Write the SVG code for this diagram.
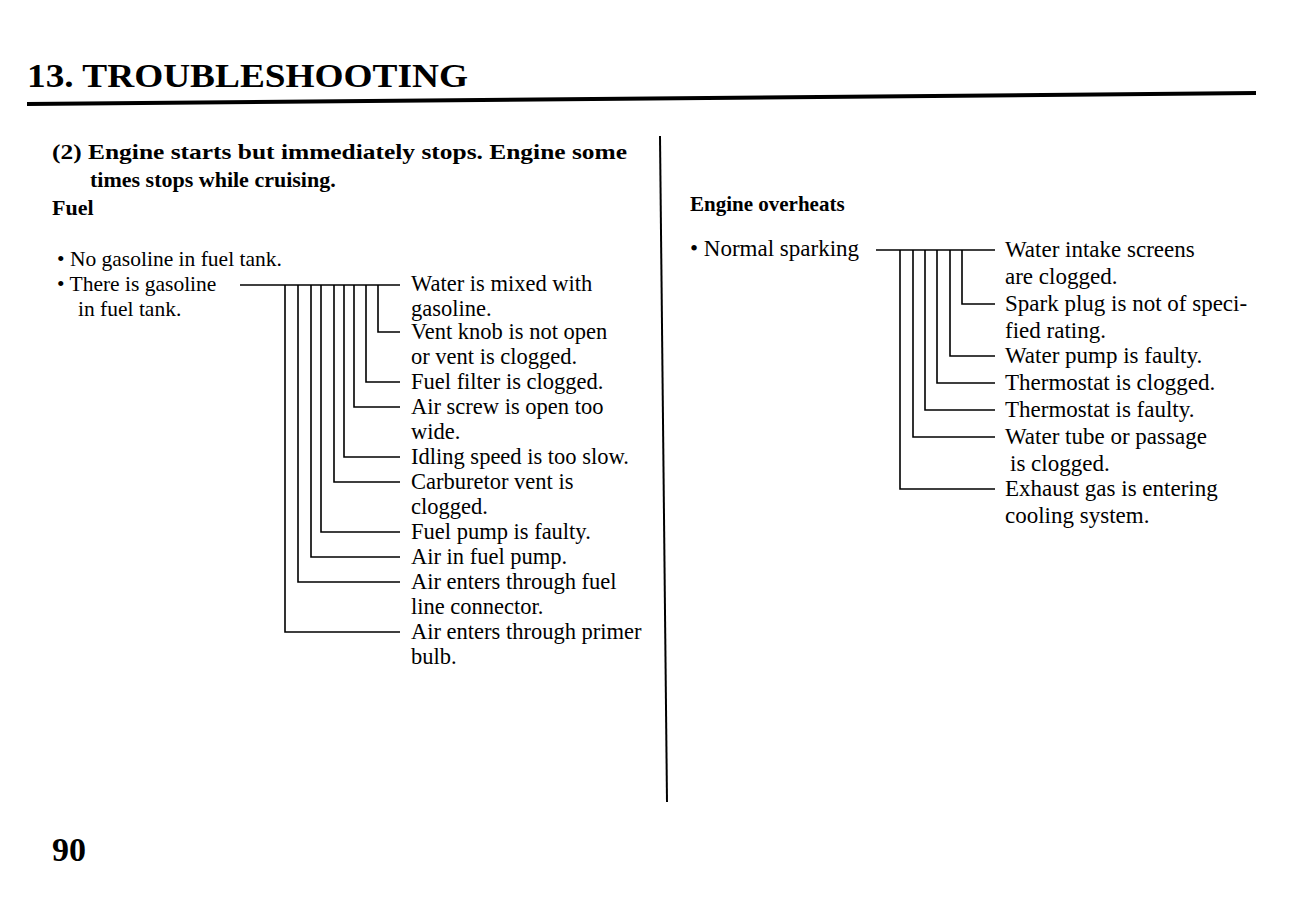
<svg xmlns="http://www.w3.org/2000/svg" width="1297" height="919" viewBox="0 0 1297 919">
<style>
  .t { font-family: "Liberation Serif", "Times New Roman", serif; fill: #000; }
  .b { font-weight: bold; }
  .l { font-size: 22.5px; }
  .s { font-size: 21.5px; }
  .r { font-size: 23px; }
  .c { fill: none; stroke: #000; stroke-width: 1.6; }
</style>
<rect width="1297" height="919" fill="#fff"/>
<g id="title">
  <text class="t b" x="27" y="87" font-size="33" textLength="441" lengthAdjust="spacingAndGlyphs">13. TROUBLESHOOTING</text>
  <line x1="27" y1="104" x2="1256" y2="93" stroke="#000" stroke-width="4"/>
</g>
<line id="divider" x1="660" y1="136" x2="667" y2="802" stroke="#000" stroke-width="2"/>
<g id="heading-left">
  <text class="t b" x="52" y="159" font-size="22" textLength="575" lengthAdjust="spacingAndGlyphs">(2) Engine starts but immediately stops.  Engine some</text>
  <text class="t b" x="90" y="187" font-size="22">times stops while cruising.</text>
  <text class="t b" x="52" y="215" font-size="22">Fuel</text>
</g>
<g id="no-gasoline"><text class="t s" x="57" y="266">• No gasoline in fuel tank.</text></g>
<g id="gasoline">
  <text class="t s" x="57" y="291">• There is gasoline</text>
  <text class="t s" x="78" y="316">in fuel tank.</text>
</g>
<g id="connectors-left">
  <polyline class="c" points="240,285 400,285"/>
  <polyline class="c" points="378,285 378,332 400,332"/>
  <polyline class="c" points="366,285 366,382 400,382"/>
  <polyline class="c" points="354,285 354,407 400,407"/>
  <polyline class="c" points="344,285 344,457 400,457"/>
  <polyline class="c" points="334,285 334,482 400,482"/>
  <polyline class="c" points="321,285 321,532 400,532"/>
  <polyline class="c" points="311,285 311,557 400,557"/>
  <polyline class="c" points="298,285 298,582 400,582"/>
  <polyline class="c" points="285,285 285,632 400,632"/>
</g>
<g id="c1"><text class="t l" x="411" y="291">Water is mixed with</text><text class="t l" x="411" y="316">gasoline.</text></g>
<g id="c2"><text class="t l" x="411" y="339">Vent knob is not open</text><text class="t l" x="411" y="364">or vent is clogged.</text></g>
<g id="c3"><text class="t l" x="411" y="389">Fuel filter is clogged.</text></g>
<g id="c4"><text class="t l" x="411" y="414">Air screw is open too</text><text class="t l" x="411" y="439">wide.</text></g>
<g id="c5"><text class="t l" x="411" y="464">Idling speed is too slow.</text></g>
<g id="c6"><text class="t l" x="411" y="489">Carburetor vent is</text><text class="t l" x="411" y="514">clogged.</text></g>
<g id="c7"><text class="t l" x="411" y="539">Fuel pump is faulty.</text></g>
<g id="c8"><text class="t l" x="411" y="564">Air in fuel pump.</text></g>
<g id="c9"><text class="t l" x="411" y="589">Air enters through fuel</text><text class="t l" x="411" y="614">line connector.</text></g>
<g id="c10"><text class="t l" x="411" y="639">Air enters through primer</text><text class="t l" x="411" y="664">bulb.</text></g>
<g id="heading-right"><text class="t b" x="690" y="211" font-size="21">Engine overheats</text></g>
<g id="normal-sparking"><text class="t r" x="690" y="256">• Normal sparking</text></g>
<g id="connectors-right">
  <polyline class="c" points="876,250 995,250"/>
  <polyline class="c" points="962,250 962,304 995,304"/>
  <polyline class="c" points="950,250 950,356 995,356"/>
  <polyline class="c" points="937,250 937,383 995,383"/>
  <polyline class="c" points="925,250 925,410 995,410"/>
  <polyline class="c" points="913,250 913,437 995,437"/>
  <polyline class="c" points="900,250 900,489 995,489"/>
</g>
<g id="r1"><text class="t r" x="1005" y="257">Water intake screens</text><text class="t r" x="1005" y="284">are clogged.</text></g>
<g id="r2"><text class="t r" x="1005" y="311">Spark plug is not of speci-</text><text class="t r" x="1005" y="338">fied rating.</text></g>
<g id="r3"><text class="t r" x="1005" y="363">Water pump is faulty.</text></g>
<g id="r4"><text class="t r" x="1005" y="390">Thermostat is clogged.</text></g>
<g id="r5"><text class="t r" x="1005" y="417">Thermostat is faulty.</text></g>
<g id="r6"><text class="t r" x="1005" y="444">Water tube or passage</text><text class="t r" x="1010" y="471">is clogged.</text></g>
<g id="r7"><text class="t r" x="1005" y="496">Exhaust gas is entering</text><text class="t r" x="1005" y="523">cooling system.</text></g>
<g id="page"><text class="t b" x="52" y="861" font-size="34">90</text></g>
</svg>
